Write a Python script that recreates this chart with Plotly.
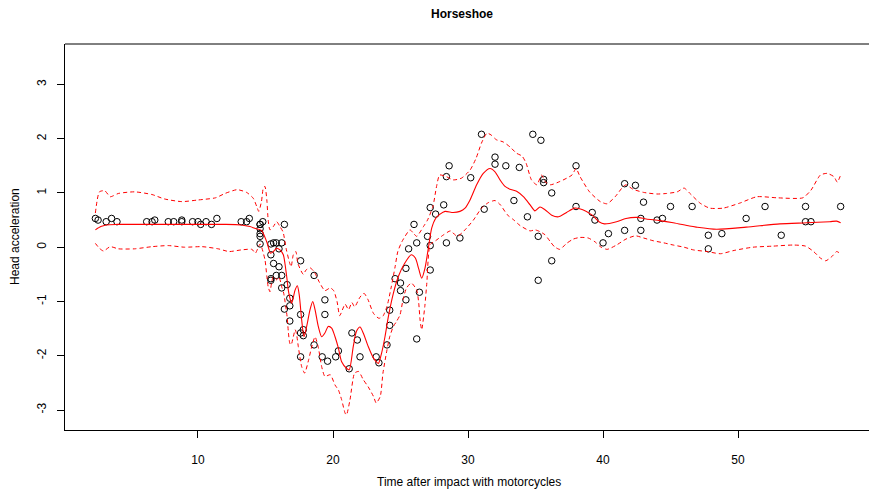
import plotly.graph_objects as go

# Motorcycle impact data: time (ms) and standardised head acceleration
times = [2.4, 2.6, 3.2, 3.6, 4.0, 6.2, 6.6, 6.8, 7.8, 8.2, 8.8, 8.8, 9.6, 10.0, 10.2, 10.6, 11.0, 11.4,
         13.2, 13.6, 13.8, 14.6, 14.6, 14.6, 14.6, 14.6, 14.6, 14.8, 15.4, 15.4, 15.4, 15.4, 15.6, 15.6,
         15.8, 15.8, 16.0, 16.0, 16.2, 16.2, 16.2, 16.4, 16.4, 16.6, 16.8, 16.8, 16.8, 17.6, 17.6, 17.6,
         17.6, 17.8, 17.8, 18.6, 18.6, 19.2, 19.4, 19.4, 19.6, 20.2, 20.4, 21.2, 21.4, 21.8, 22.0, 23.2,
         23.4, 24.0, 24.2, 24.2, 24.6, 25.0, 25.0, 25.4, 25.4, 25.6, 26.0, 26.2, 26.2, 26.4, 27.0, 27.2,
         27.2, 27.2, 27.6, 28.2, 28.4, 28.4, 28.6, 29.4, 30.2, 31.0, 31.2, 32.0, 32.0, 32.8, 33.4, 33.8,
         34.4, 34.8, 35.2, 35.2, 35.4, 35.6, 35.6, 36.2, 36.2, 38.0, 38.0, 39.2, 39.4, 40.0, 40.4, 41.6,
         41.6, 42.4, 42.8, 42.8, 43.0, 44.0, 44.4, 45.0, 46.6, 47.8, 47.8, 48.8, 50.6, 52.0, 53.2, 55.0,
         55.0, 55.4, 57.6]

accel = [0.53, 0.50, 0.47, 0.53, 0.47, 0.47, 0.47, 0.50, 0.47, 0.47, 0.50, 0.47, 0.47, 0.47, 0.42, 0.47,
         0.42, 0.53, 0.47, 0.47, 0.53, 0.25, 0.42, 0.42, 0.34, 0.20, 0.06, 0.47, 0.06, -0.14, -0.58, -0.61,
         -0.30, 0.08, 0.08, -0.52, -0.36, -0.03, 0.08, -0.52, -0.75, 0.42, -1.14, -0.69, -0.94, -1.36,
         -1.08, -0.25, -1.24, -2.02, -1.58, -1.52, -1.63, -1.80, -0.52, -2.02, -1.24, -0.97, -2.10, -2.02,
         -1.91, -2.24, -1.58, -1.71, -2.02, -2.02, -2.13, -1.80, -1.44, -1.16, -0.58, -0.80, -0.66, -0.97,
         -0.39, -0.03, 0.42, -1.69, 0.08, -0.83, 0.20, -0.42, 0.03, 0.73, 0.61, 0.78, 0.08, 1.30, 1.50,
         0.17, 1.28, 2.08, 0.70, 1.66, 1.53, 1.50, 0.86, 1.47, 0.56, 2.08, 0.20, -0.61, 1.97, 1.25, 1.19,
         -0.25, 1.00, 1.50, 0.75, 0.64, 0.50, 0.08, 0.25, 1.17, 0.31, 1.14, 0.53, 0.31, 0.83, 0.50, 0.53,
         0.75, 0.75, -0.03, 0.22, 0.25, 0.53, 0.75, 0.22, 0.47, 0.75, 0.47, 0.75]

# Posterior mean of the horseshoe fit
fit_t = [2.4, 2.8, 3.2, 4.0, 6.0, 8.0, 10.0, 12.0, 13.2, 13.85, 14.2, 14.7, 15.09, 15.38, 15.58, 15.83,
         16.07, 16.32, 16.44, 16.57, 16.69, 16.81, 16.94, 17.19, 17.36, 17.5, 17.68, 17.85, 18.05, 18.3,
         18.5, 18.67, 18.91, 19.16, 19.4, 19.65, 19.9, 20.15, 20.4, 20.64, 21.0, 21.2, 21.5, 21.74, 22.0,
         22.24, 22.61, 22.99, 23.36, 23.6, 23.85, 24.1, 24.47, 24.84, 25.3, 25.8, 26.1, 26.35, 26.57,
         26.81, 27.06, 27.31, 27.6, 27.93, 28.3, 28.9, 29.4, 29.78, 30.15, 30.64, 31.13, 31.63, 32.0,
         32.37, 32.74, 33.1, 33.6, 34.1, 34.6, 34.96, 35.33, 35.7, 36.2, 36.7, 37.3, 37.9, 38.5, 39.2,
         39.7, 40.1, 41.0, 41.7, 42.5, 43.2, 44.2, 45.2, 46.4, 46.9, 48.4, 50.6, 53.1, 55.1, 56.8, 57.3,
         57.6]
fit_mean = [0.32, 0.38, 0.41, 0.42, 0.42, 0.42, 0.42, 0.42, 0.41, 0.38, 0.35, 0.31, 0.10, -0.11, -0.08,
            -0.02, -0.05, -0.14, -0.30, -0.54, -0.79, -0.94, -1.03, -0.79, -0.71, -0.88, -1.34, -1.65,
            -1.46, -1.15, -1.00, -1.15, -1.46, -1.65, -1.58, -1.46, -1.49, -1.65, -1.86, -2.11, -2.23,
            -2.26, -1.83, -1.55, -1.47, -1.58, -1.83, -2.04, -2.14, -1.95, -1.65, -1.28, -0.85, -0.54,
            -0.30, -0.14, -0.20, -0.40, -0.57, -0.39, -0.02, 0.35, 0.53, 0.61, 0.66, 0.64, 0.66, 0.72,
            0.87, 1.15, 1.36, 1.45, 1.39, 1.24, 1.12, 1.07, 1.03, 0.93, 0.78, 0.67, 0.74, 0.69, 0.59,
            0.56, 0.64, 0.72, 0.69, 0.59, 0.47, 0.43, 0.47, 0.53, 0.55, 0.52, 0.49, 0.45, 0.39, 0.37,
            0.33, 0.37, 0.43, 0.45, 0.47, 0.48, 0.45]

# Upper credible band
up_t = [2.4, 2.7, 3.1, 3.5, 4.1, 5.3, 6.6, 7.5, 8.8, 10.0, 11.3, 12.0, 12.9, 13.6, 14.1, 14.35, 14.5,
        14.7, 14.84, 14.96, 15.1, 15.2, 15.33, 15.58, 15.83, 16.07, 16.3, 16.55, 16.8, 16.9, 17.06,
        17.25, 17.4, 17.8, 18.0, 18.3, 18.6, 19.0, 19.4, 19.8, 20.05, 20.3, 20.5, 20.9, 21.15, 21.4,
        21.6, 22.0, 22.3, 22.6, 23.0, 23.4, 23.7, 24.0, 24.3, 24.6, 24.8, 25.1, 25.7, 25.95, 26.2, 26.7,
        27.0, 27.4, 27.67, 27.9, 28.4, 28.9, 29.5, 30.15, 30.6, 31.0, 31.4, 31.7, 32.1, 32.6, 33.1,
        33.6, 34.0, 34.3, 34.7, 35.1, 35.45, 35.7, 36.1, 36.8, 37.7, 38.0, 38.3, 39.0, 39.8, 40.3, 40.9,
        41.5, 41.7, 42.2, 43.0, 44.0, 44.7, 45.5, 46.0, 46.4, 47.2, 47.9, 48.9, 50.1, 51.4, 52.9, 54.8,
        55.4, 56.1, 56.6, 57.1, 57.35, 57.6]
fit_upper = [0.63, 1.02, 1.04, 0.93, 0.99, 1.02, 0.97, 0.89, 0.84, 0.87, 0.91, 0.99, 1.06, 1.01, 0.90,
             0.75, 0.66, 0.84, 1.09, 1.12, 0.87, 0.50, 0.32, 0.38, 0.47, 0.38, 0.28, -0.05, -0.30,
             -0.36, -0.14, -0.08, -0.30, -0.50, -0.42, -0.38, -0.45, -0.65, -0.80, -0.75, -0.80, -1.00,
             -1.26, -1.05, -1.15, -1.02, -1.10, -0.92, -0.85, -0.97, -1.22, -1.31, -1.27, -1.09, -0.75,
             -0.36, -0.08, 0.10, 0.32, 0.26, 0.20, 0.38, 0.50, 0.75, 1.12, 1.33, 1.30, 1.24, 1.27, 1.42,
             1.64, 1.92, 2.10, 2.07, 1.98, 1.94, 1.85, 1.73, 1.68, 1.55, 1.24, 1.15, 1.33, 1.21, 1.15,
             1.21, 1.33, 1.45, 1.30, 1.02, 0.84, 0.80, 0.93, 1.12, 1.15, 1.07, 1.01, 0.98, 0.99, 1.02,
             1.09, 1.00, 0.81, 0.72, 0.72, 0.81, 0.93, 0.91, 0.91, 1.05, 1.33, 1.36, 1.30, 1.20, 1.33]

# Lower credible band
lo_t = [2.4, 2.7, 3.0, 3.5, 4.1, 5.3, 6.6, 7.8, 9.0, 10.3, 11.5, 12.3, 13.2, 14.0, 14.25, 14.6, 14.96,
        15.1, 15.2, 15.33, 15.45, 15.58, 15.83, 16.0, 16.2, 16.35, 16.6, 16.7, 16.8, 16.9, 17.06, 17.2,
        17.3, 17.43, 17.68, 17.9, 18.2, 18.4, 18.67, 18.9, 19.16, 19.4, 19.8, 20.15, 20.4, 20.64, 20.9,
        21.0, 21.26, 21.6, 21.9, 22.24, 22.6, 23.0, 23.2, 23.5, 23.7, 24.0, 24.2, 24.47, 24.7, 24.96,
        25.2, 25.45, 25.8, 26.2, 26.35, 26.45, 26.57, 26.8, 26.95, 27.2, 27.6, 28.2, 28.7, 29.2, 29.7,
        30.4, 31.0, 31.5, 32.0, 32.4, 32.9, 33.4, 33.85, 34.6, 34.96, 35.3, 35.7, 36.1, 36.4, 36.8,
        37.3, 37.8, 38.3, 38.9, 39.4, 39.8, 40.3, 41.0, 41.7, 42.4, 43.0, 43.7, 44.5, 45.2, 46.0, 46.7,
        47.7, 48.7, 49.7, 51.1, 52.6, 54.1, 55.0, 55.6, 56.1, 56.5, 57.0, 57.3, 57.6]
fit_lower = [0.07, -0.02, -0.07, 0.01, -0.03, -0.03, 0.01, 0.03, 0.00, 0.01, -0.03, -0.08, -0.05, -0.04,
             -0.11, 0.06, -0.23, -0.54, -0.73, -0.82, -0.66, -0.54, -0.60, -0.55, -0.73, -0.85, -1.28,
             -1.58, -1.77, -1.80, -1.65, -1.52, -1.60, -1.83, -2.20, -2.32, -2.07, -1.86, -1.65, -1.83,
             -2.20, -2.38, -2.35, -2.54, -2.63, -2.81, -3.06, -3.09, -2.81, -2.32, -2.29, -2.44, -2.57,
             -2.75, -2.87, -2.75, -2.32, -1.89, -1.65, -1.46, -1.37, -1.25, -0.95, -0.75, -0.66, -0.79,
             -1.03, -1.34, -1.52, -1.09, -0.66, 0.05, 0.12, 0.23, 0.30, 0.20, 0.30, 0.50, 0.72, 0.82,
             0.86, 0.78, 0.60, 0.50, 0.40, 0.30, 0.32, 0.29, 0.23, 0.10, 0.01, -0.04, 0.07, 0.15, 0.18,
             0.17, 0.10, 0.01, -0.04, 0.04, 0.15, 0.21, 0.17, 0.12, 0.08, 0.04, 0.00, -0.05, -0.08,
             -0.12, -0.06, 0.00, 0.02, 0.04, 0.02, -0.08, -0.20, -0.25, -0.16, -0.08, -0.12]

x_ticks = [10, 20, 30, 40, 50]
y_ticks = [-3, -2, -1, 0, 1, 2, 3]

FONT = "Liberation Sans, Arial, Helvetica, sans-serif"
W, H = 869, 491
ML, MR, MT, MB = 65, 0, 44, 61
PW, PH = W - ML - MR, H - MT - MB


def px_x(px):
    return (px - ML) / PW


def px_y(py):
    return (H - MB - py) / PH


fig = go.Figure()

fig.add_trace(go.Scatter(
    x=times, y=accel, mode="markers",
    marker=dict(symbol="circle-open", size=6.5, color="black", line=dict(width=1, color="black")),
    showlegend=False, hoverinfo="skip"))

for tx, ty in [(up_t, fit_upper), (lo_t, fit_lower)]:
    fig.add_trace(go.Scatter(
        x=tx, y=ty, mode="lines",
        line=dict(color="#FF0000", width=1, dash="4px,3px", shape="spline", smoothing=0.6),
        showlegend=False, hoverinfo="skip"))

fig.add_trace(go.Scatter(
    x=fit_t, y=fit_mean, mode="lines",
    line=dict(color="#FF0000", width=1.1, shape="spline", smoothing=0.7),
    showlegend=False, hoverinfo="skip"))

axis_common = dict(
    showgrid=False, zeroline=False, showline=True, linecolor="black", linewidth=1,
    ticks="outside", ticklen=7, tickwidth=1, tickcolor="black",
    tickfont=dict(family=FONT, size=12, color="black"),
)

fig.update_xaxes(range=[0.15, 59.70], tickvals=x_ticks, ticktext=[str(v) for v in x_ticks],
                 ticklabelstandoff=12, **axis_common)
fig.update_yaxes(range=[-3.368, 3.744], tickvals=y_ticks, ticktext=[str(v) for v in y_ticks],
                 tickangle=-90, ticklabelstandoff=6, **axis_common)

# top edge of the plot frame
fig.add_shape(type="line", xref="paper", yref="paper", x0=0, x1=1.01, y0=1, y1=1,
              line=dict(color="black", width=1))

fig.update_layout(
    width=W, height=H,
    margin=dict(l=ML, r=MR, t=MT, b=MB),
    plot_bgcolor="white", paper_bgcolor="white",
    annotations=[
        dict(text="<b>Horseshoe</b>", x=px_x(462), y=px_y(14), xref="paper", yref="paper",
             showarrow=False, font=dict(family=FONT, size=12, color="black"),
             xanchor="center", yanchor="middle"),
        dict(text="Time after impact with motorcycles", x=px_x(469), y=px_y(482), xref="paper",
             yref="paper", showarrow=False, font=dict(family=FONT, size=12, color="black"),
             xanchor="center", yanchor="middle"),
        dict(text="Head acceleration", x=px_x(15), y=px_y(237), xref="paper", yref="paper",
             showarrow=False, textangle=-90, font=dict(family=FONT, size=12, color="black"),
             xanchor="center", yanchor="middle"),
    ],
)

fig.write_html("out.html")
